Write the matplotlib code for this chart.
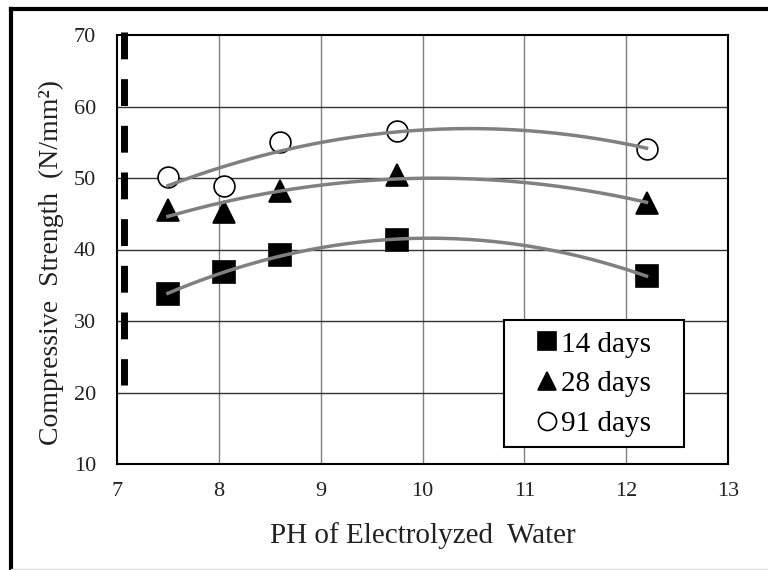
import numpy as np
import matplotlib
matplotlib.use("Agg")
import matplotlib.pyplot as plt
from matplotlib.lines import Line2D
from matplotlib.patches import Rectangle

plt.rcParams['font.family'] = ['Liberation Serif', 'DejaVu Serif']

# data
ph = [7.5, 8.05, 8.6, 9.75, 12.2]
d14 = [33.8, 36.8, 39.3, 41.3, 36.3]
d28 = [45.5, 45.3, 48.2, 50.4, 46.5]
d91 = [50.2, 48.9, 55.1, 56.6, 54.1]
labels = ['14 days', '28 days', '91 days']
markers = ['s', '^', 'o']
faces = ['black', 'black', 'white']
series = [d14, d28, d91]

xticks = [7, 8, 9, 10, 11, 12, 13]
yticks = [10, 20, 30, 40, 50, 60, 70]

fig = plt.figure(figsize=(7.68, 5.7), dpi=100)
ax = fig.add_axes([117/768, 106/570, 611/768, 429/570])

# grid
for x in xticks[1:-1]:
    ax.axvline(x, color='#7f7f7f', lw=1.0, zorder=1)
for y in yticks[1:-1]:
    ax.axhline(y, color='#333333', lw=1.0, zorder=1)

# dashed mark line near ph 7
ax.plot([7.07, 7.07], [70.4, 21.05], color='black', lw=5, dashes=(3.86, 2.86),
        solid_capstyle='butt', dash_capstyle='butt', clip_on=False, zorder=4)

# polynomial trend lines (order 2)
xx = np.linspace(ph[0], ph[-1], 200)
for vals in series:
    c = np.polyfit(ph, vals, 2)
    ax.plot(xx, np.polyval(c, xx), color='#808080', lw=2.5, zorder=3)

for vals, m, fc in zip(series, markers, faces):
    ms = 15 if m == 'o' else 16
    ax.plot(ph, vals, linestyle='none', marker=m, ms=ms, mfc=fc, mec='black',
            mew=1.2, zorder=2)

ax.set_xlim(7, 13)
ax.set_ylim(10, 70)
ax.set_xticks(xticks)
ax.set_yticks(yticks)
ax.tick_params(length=0, labelsize=16, colors='#222222')
ax.tick_params(axis='x', pad=13)
ax.tick_params(axis='y', pad=15)
for s in ax.spines.values():
    s.set_linewidth(1.5)
    s.set_zorder(5)

ax.set_xlabel('PH of Electrolyzed  Water', fontsize=21, labelpad=15, color='#222222')
ax.set_ylabel('Compressive  Strength  (N/mm²)', fontsize=20, color='#222222')
ax.yaxis.set_label_coords(-0.086, 0.47)

# legend box
ax.add_patch(Rectangle((387/611, 17/429), 180/611, 127/429, transform=ax.transAxes,
                       facecolor='white', edgecolor='black', lw=1.5, zorder=6))
handles = [Line2D([], [], linestyle='none', marker=m, ms=13, mfc=fc, mec='black',
                  mew=1.2) for m, fc in zip(markers, faces)]
leg = ax.legend(handles, labels, loc='center', bbox_to_anchor=(477/611, 80/429),
                fontsize=21, frameon=False, handlelength=0.7,
                handletextpad=0.15, borderpad=0, labelspacing=0.45,
                borderaxespad=0)
leg.set_zorder(7)

# outer frame
fig.add_artist(Line2D([11/768, 11/768], [1 - 9/570, 1/570], color='black', lw=3,
                      transform=fig.transFigure))
fig.add_artist(Line2D([11/768, 1], [1 - 9/570, 1 - 9/570], color='black', lw=3,
                      transform=fig.transFigure))
fig.add_artist(Line2D([11/768, 1], [1/570, 1/570], color='#dddddd', lw=1,
                      transform=fig.transFigure))

fig.savefig('out.png', dpi=100)
